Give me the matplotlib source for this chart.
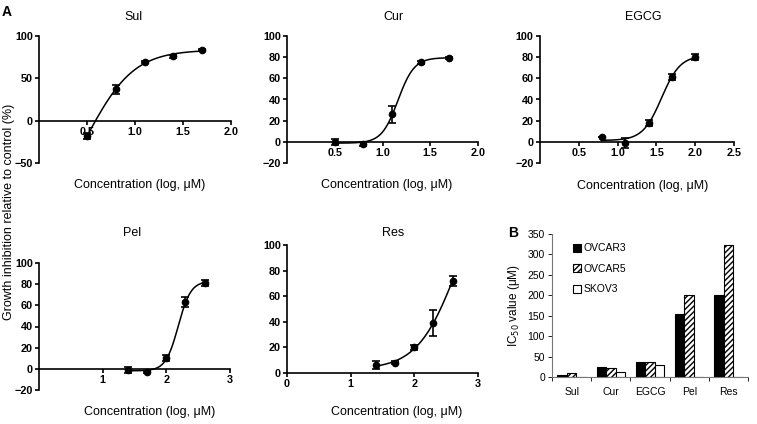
import numpy as np
import matplotlib
matplotlib.use("Agg")
import matplotlib.pyplot as plt

plt.rcParams['font.family'] = ['Liberation Sans', 'DejaVu Sans']

# dose-response data (log conc, % inhibition, sem)
sul_x = [0.5, 0.8, 1.1, 1.4, 1.7]
sul_y = [-18, 37, 69, 76, 84]
sul_e = [4, 5, 1, 2, 1]

cur_x = [0.5, 0.8, 1.1, 1.4, 1.7]
cur_y = [0, -2, 26, 75, 79]
cur_e = [3, 2, 8, 1, 1]

egcg_x = [0.8, 1.1, 1.4, 1.7, 2.0]
egcg_y = [5, -1, 18, 61, 80]
egcg_e = [0, 5, 3, 3, 3]

pel_x = [1.4, 1.7, 2.0, 2.3, 2.6]
pel_y = [-1, -3, 10, 63, 81]
pel_e = [3, 1, 3, 5, 3]

res_x = [1.4, 1.7, 2.0, 2.3, 2.6]
res_y = [6, 8, 20, 39, 72]
res_e = [3, 1, 2, 10, 4]

# IC50 bar chart
drugs = ["Sul", "Cur", "EGCG", "Pel", "Res"]
ovcar3 = [6, 24, 36, 155, 200]
ovcar5 = [9, 22, 36, 200, 322]
skov3 = [0, 12, 30, 0, 0]


def fit4pl(x, y):
    # crude 4-parameter logistic fit: grid over ec50/hill, linear solve for bottom/top
    x = np.asarray(x, float)
    y = np.asarray(y, float)
    best = None
    for c in np.linspace(x.min() - 0.3, x.max() + 0.8, 111):
        for h in np.linspace(0.8, 8, 73):
            s = 1 / (1 + 10 ** ((c - x) * h))
            A = np.column_stack([1 - s, s])
            coef = np.linalg.lstsq(A, y, rcond=None)[0]
            r = np.sum((A @ coef - y) ** 2)
            if best is None or r < best[0]:
                best = (r, c, h, coef)
    _, c, h, (b, t) = best
    xs = np.linspace(x.min(), x.max(), 200)
    return xs, b + (t - b) / (1 + 10 ** ((c - xs) * h))


fig = plt.figure(figsize=(7.57, 4.24), dpi=100)


def W(px):
    return px / 757


def H(py):
    return 1 - py / 424


def dose_panel(rect, x, y, e, xlim, xticks, ylim, yticks, title, tpos, lpos):
    ax = fig.add_axes(rect)
    xs, ys = fit4pl(x, y)
    ax.plot(xs, ys, color='black', lw=1.1)
    ax.errorbar(x, y, yerr=e, fmt='o', color='black', ms=4.5, capsize=3,
                elinewidth=1.2, capthick=1.2)
    ax.set_xlim(*xlim)
    ax.set_ylim(*ylim)
    ax.set_xticks(xticks)
    ax.set_yticks(yticks)
    ax.spines['top'].set_visible(False)
    ax.spines['right'].set_visible(False)
    ax.spines['bottom'].set_position(('data', 0))
    ax.spines['left'].set_linewidth(1.2)
    ax.spines['bottom'].set_linewidth(1.2)
    ax.tick_params(direction='out', length=3, width=1.2, labelsize=7.8, pad=1.5)
    for lab in ax.get_xticklabels() + ax.get_yticklabels():
        lab.set_fontweight('bold')
    fig.text(W(tpos[0]), H(tpos[1]), title, ha='center', va='center', fontsize=9)
    fig.text(W(lpos[0]), H(lpos[1]), "Concentration (log, μM)", ha='center', va='center', fontsize=9)
    return ax


top_rect_y = (H(163), 127 / 424)
dose_panel([W(39), top_rect_y[0], W(192), top_rect_y[1]], sul_x, sul_y, sul_e,
           (0, 2.0), [0.5, 1.0, 1.5, 2.0], (-50, 100), [-50, 0, 50, 100],
           "Sul", (133, 17), (140, 185))
dose_panel([W(287), top_rect_y[0], W(191), top_rect_y[1]], cur_x, cur_y, cur_e,
           (0, 2.0), [0.5, 1.0, 1.5, 2.0], (-20, 100), [-20, 0, 20, 40, 60, 80, 100],
           "Cur", (393, 17), (387, 185))
dose_panel([W(540), top_rect_y[0], W(194), top_rect_y[1]], egcg_x, egcg_y, egcg_e,
           (0, 2.5), [0.5, 1.0, 1.5, 2.0, 2.5], (-20, 100), [-20, 0, 20, 40, 60, 80, 100],
           "EGCG", (643, 17), (643, 186))
dose_panel([W(39), H(390), W(191), 127 / 424], pel_x, pel_y, pel_e,
           (0, 3), [1, 2, 3], (-20, 100), [-20, 0, 20, 40, 60, 80, 100],
           "Pel", (132, 233), (150, 412))
dose_panel([W(287), H(373), W(191), 128 / 424], res_x, res_y, res_e,
           (0, 3), [0, 1, 2, 3], (0, 100), [0, 20, 40, 60, 80, 100],
           "Res", (393, 233), (397, 412))

fig.text(W(9), H(212), "Growth inhibition relative to control (%)", rotation=90,
         ha='center', va='center', fontsize=9)
fig.text(W(7), H(12), "A", fontsize=10, fontweight='bold', ha='center', va='center')
fig.text(W(513), H(233), "B", fontsize=10, fontweight='bold', ha='center', va='center')

# panel B
axb = fig.add_axes([W(552), H(377), W(196), 143 / 424])
pos = np.arange(len(drugs))
bw = 0.24
axb.bar(pos - bw, ovcar3, bw, color='black', edgecolor='black', lw=0.8, label='OVCAR3')
axb.bar(pos, ovcar5, bw, color='white', edgecolor='black', hatch='//////', lw=0.8, label='OVCAR5')
axb.bar(pos + bw, skov3, bw, color='white', edgecolor='black', lw=0.8, label='SKOV3')
axb.set_xlim(-0.5, len(drugs) - 0.5)
axb.set_ylim(0, 350)
axb.set_yticks(range(0, 351, 50))
axb.set_xticks(pos)
axb.set_xticklabels(drugs)
axb.set_xticks(np.arange(-0.5, len(drugs), 1), minor=True)
axb.tick_params(axis='x', which='major', length=0, labelsize=7.5, pad=7)
axb.tick_params(axis='x', which='minor', length=3, width=0.6, direction='out')
axb.tick_params(axis='y', labelsize=7.5, length=3, width=0.6, pad=2)
axb.spines['top'].set_visible(False)
axb.spines['right'].set_visible(False)
axb.spines['left'].set_color('#777777')
axb.spines['bottom'].set_color('#777777')
axb.set_ylabel("IC$_{50}$ value (μM)", fontsize=8.5, labelpad=4)
axb.legend(loc='upper left', bbox_to_anchor=(0.06, 1.0), frameon=False, fontsize=7.5,
           handlelength=0.8, handleheight=0.8, handletextpad=0.2, labelspacing=1.0)

fig.savefig("out.png", dpi=100)
